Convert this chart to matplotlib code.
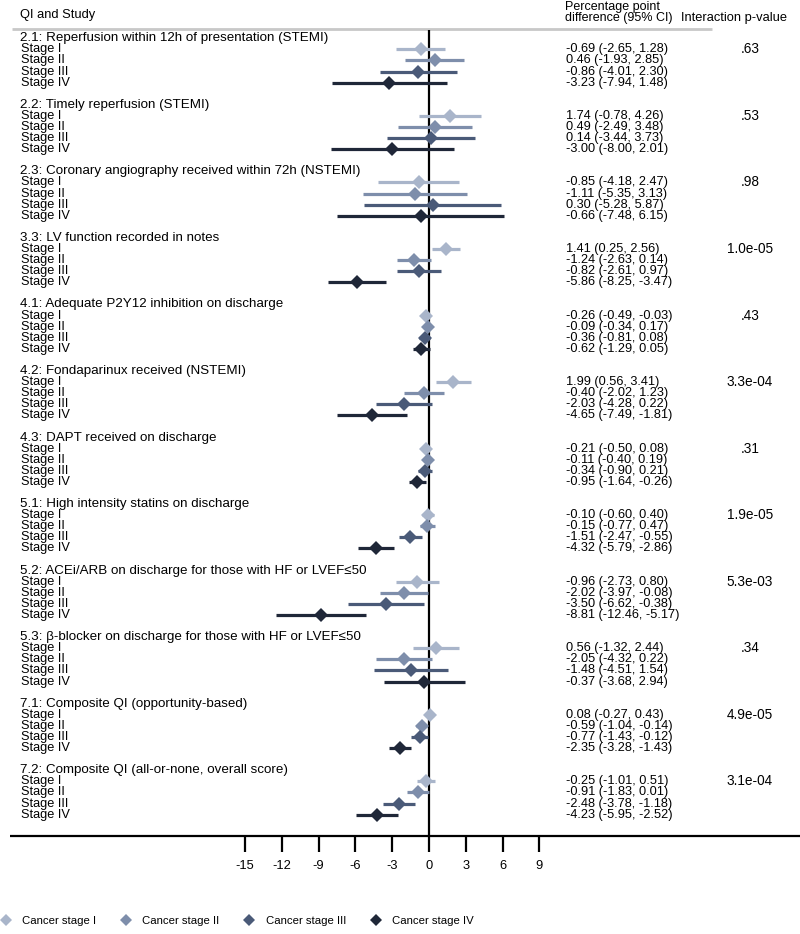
import matplotlib.pyplot as plt
from matplotlib.lines import Line2D

plt.rcParams['font.family'] = ['Liberation Sans', 'DejaVu Sans']

# data
qi_titles = [
    "2.1: Reperfusion within 12h of presentation (STEMI)",
    "2.2: Timely reperfusion (STEMI)",
    "2.3: Coronary angiography received within 72h (NSTEMI)",
    "3.3: LV function recorded in notes",
    "4.1: Adequate P2Y12 inhibition on discharge",
    "4.2: Fondaparinux received (NSTEMI)",
    "4.3: DAPT received on discharge",
    "5.1: High intensity statins on discharge",
    "5.2: ACEi/ARB on discharge for those with HF or LVEF\u226450",
    "5.3: \u03b2-blocker on discharge for those with HF or LVEF\u226450",
    "7.1: Composite QI (opportunity-based)",
    "7.2: Composite QI (all-or-none, overall score)",
]
stages = ["Stage I", "Stage II", "Stage III", "Stage IV"]
legend_labels = ["Cancer stage I", "Cancer stage II", "Cancer stage III", "Cancer stage IV"]

est = [
    [-0.69, 0.46, -0.86, -3.23],
    [1.74, 0.49, 0.14, -3.00],
    [-0.85, -1.11, 0.30, -0.66],
    [1.41, -1.24, -0.82, -5.86],
    [-0.26, -0.09, -0.36, -0.62],
    [1.99, -0.40, -2.03, -4.65],
    [-0.21, -0.11, -0.34, -0.95],
    [-0.10, -0.15, -1.51, -4.32],
    [-0.96, -2.02, -3.50, -8.81],
    [0.56, -2.05, -1.48, -0.37],
    [0.08, -0.59, -0.77, -2.35],
    [-0.25, -0.91, -2.48, -4.23],
]
lo = [
    [-2.65, -1.93, -4.01, -7.94],
    [-0.78, -2.49, -3.44, -8.00],
    [-4.18, -5.35, -5.28, -7.48],
    [0.25, -2.63, -2.61, -8.25],
    [-0.49, -0.34, -0.81, -1.29],
    [0.56, -2.02, -4.28, -7.49],
    [-0.50, -0.40, -0.90, -1.64],
    [-0.60, -0.77, -2.47, -5.79],
    [-2.73, -3.97, -6.62, -12.46],
    [-1.32, -4.32, -4.51, -3.68],
    [-0.27, -1.04, -1.43, -3.28],
    [-1.01, -1.83, -3.78, -5.95],
]
hi = [
    [1.28, 2.85, 2.30, 1.48],
    [4.26, 3.48, 3.73, 2.01],
    [2.47, 3.13, 5.87, 6.15],
    [2.56, 0.14, 0.97, -3.47],
    [-0.03, 0.17, 0.08, 0.05],
    [3.41, 1.23, 0.22, -1.81],
    [0.08, 0.19, 0.21, -0.26],
    [0.40, 0.47, -0.55, -2.86],
    [0.80, -0.08, -0.38, -5.17],
    [2.44, 0.22, 1.54, 2.94],
    [0.43, -0.14, -0.12, -1.43],
    [0.51, 0.01, -1.18, -2.52],
]
pvals = [".63", ".53", ".98", "1.0e-05", ".43", "3.3e-04", ".31", "1.9e-05",
         "5.3e-03", ".34", "4.9e-05", "3.1e-04"]
xticks = [-15, -12, -9, -6, -3, 0, 3, 6, 9]

colors = ["#a9b5ca", "#7e8eab", "#4a5a78", "#1f2738"]
fs = 9.2

# layout (pixel based, 800x934 canvas)
W, H = 800, 934
x0_px, px_unit = 429, 12.27
top_px, row_px = 38.3, 11.09

fig = plt.figure(figsize=(W / 100, H / 100), dpi=100)
ax = fig.add_axes([0, 0, 1, 1])
ax.set_xlim(-x0_px / px_unit, (W - x0_px) / px_unit)
ax.set_ylim((H - top_px) / row_px, -top_px / row_px)
ax.axis('off')

def xpx(p):
    return (p - x0_px) / px_unit

def ypx(p):
    return (p - top_px) / row_px

# header
ax.text(xpx(20), ypx(15), "QI and Study", va='center', fontsize=9.3)
ax.text(xpx(565), ypx(0.5), "Percentage point", va='top', fontsize=9)
ax.text(xpx(565), ypx(18), "difference (95% CI)", va='center', fontsize=9)
ax.text(xpx(681), ypx(18), "Interaction p-value", va='center', fontsize=9.3)
ax.hlines(ypx(29), xpx(12), xpx(712), color='#c8c8c8', lw=2)

# zero line and x axis
ax.vlines(0, ypx(30), ypx(836), color='black', lw=1.6)
ax.hlines(ypx(836), xpx(10), xpx(800), color='black', lw=1.6)
for t in xticks:
    ax.vlines(t, ypx(836), ypx(852), color='black', lw=1.6)
    ax.text(t, ypx(866), str(t), ha='center', va='center', fontsize=9.3)

# rows
for g, title in enumerate(qi_titles):
    r0 = g * 6
    ax.text(xpx(20), r0, title, va='center', fontsize=9.6)
    ax.text(xpx(750), r0 + 1, pvals[g], ha='center', va='center', fontsize=9.8)
    for s in range(4):
        r = r0 + 1 + s
        ax.text(xpx(21), r, stages[s], va='center', fontsize=fs)
        ax.hlines(r, lo[g][s], hi[g][s], color=colors[s], lw=2.3)
        ax.plot(est[g][s], r, 'D', color=colors[s], ms=7, mew=0)
        ax.text(xpx(566), r, f"{est[g][s]:.2f} ({lo[g][s]:.2f}, {hi[g][s]:.2f})",
                va='center', fontsize=fs)

# legend
handles = [Line2D([], [], marker='D', ls='none', color=c, ms=6, mew=0) for c in colors]
fig.legend(handles, legend_labels, loc='center left', bbox_to_anchor=(0.0, 1 - 921 / H),
           ncol=4, frameon=False, fontsize=8.2, handlelength=1.0, handletextpad=0.95,
           columnspacing=2.1, borderaxespad=0, borderpad=0)

fig.savefig('out.png', dpi=100)
